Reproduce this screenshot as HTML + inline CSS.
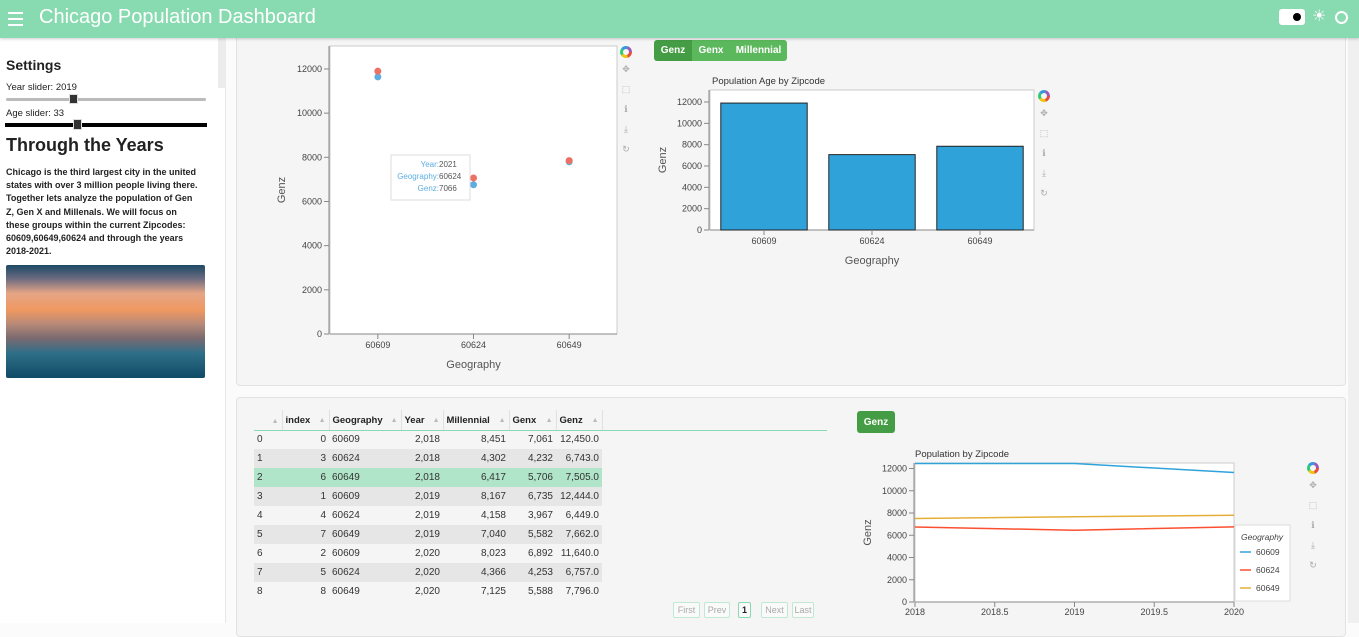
<!DOCTYPE html>
<html><head><meta charset="utf-8">
<style>
*{box-sizing:border-box;margin:0;padding:0}
body{width:1359px;height:623px;overflow:hidden;font-family:"Liberation Sans",sans-serif;background:#fbfbfb;position:relative;color:#222}
.abs{position:absolute}
#hdr{left:0;top:0;width:1359px;height:38px;background:#88dab0;box-shadow:0 1px 3px rgba(0,0,0,.2);z-index:10}
#side{left:0;top:38px;width:226px;height:585px;background:#fff;border-right:1px solid #e8e8e8}
.card{background:#f5f5f5;border:1px solid #e2e2e2;border-radius:4px}
.btn{background:#5cb85c;color:#fff;font-size:10px;font-weight:bold;display:flex;align-items:center;justify-content:center}
table{border-collapse:collapse;font-size:10px}
td{height:19px;padding:0 3px;white-space:nowrap}
.pg{border:1px solid #bfe9d2;color:#aaa;font-size:9px;height:16px;display:flex;align-items:center;justify-content:center;border-radius:2px;background:#fafafa}
</style></head><body>
<div id="hdr" class="abs">
  <div class="abs" style="left:8px;top:12px;width:15px;height:14px">
    <div style="height:2px;background:#fff;margin-bottom:4px"></div><div style="height:2px;background:#fff;margin-bottom:4px"></div><div style="height:2px;background:#fff"></div></div>
  <div class="abs" style="left:39px;top:6px;font-size:20px;color:#fff">Chicago Population Dashboard</div>
  <div class="abs" style="left:1279px;top:9px;width:26px;height:16px;background:#fff;border-radius:3px"><div style="position:absolute;left:14px;top:4px;width:8px;height:8px;border-radius:50%;background:#000"></div></div>
  <div class="abs" style="left:1312px;top:8px;color:#fff;font-size:16px;line-height:18px">☀</div>
  <div class="abs" style="left:1335px;top:11px;width:13px;height:13px;border:2px solid #fff;border-radius:50%"></div>
</div>
<div class="abs" style="left:1348px;top:38px;width:11px;height:585px;background:#f0f0f0"></div>

<div id="side" class="abs">
  <div class="abs" style="left:218px;top:0;width:8px;height:50px;background:#ececec"></div>
  <div class="abs" style="left:6px;top:19px;font-size:14px;font-weight:bold">Settings</div>
  <div class="abs" style="left:6px;top:44px;font-size:9.5px">Year slider: 2019</div>
  <div class="abs" style="left:6px;top:60px;width:200px;height:3px;background:#bbb;border-radius:2px"><div style="position:absolute;left:63px;top:-4px;width:9px;height:10px;background:#333;border:1px solid #ddd"></div></div>
  <div class="abs" style="left:6px;top:70px;font-size:9.5px">Age slider: 33</div>
  <div class="abs" style="left:5px;top:85px;width:202px;height:4px;background:#000"><div style="position:absolute;left:68px;top:-4px;width:9px;height:11px;background:#333;border:1px solid #ddd"></div></div>
  <div class="abs" style="left:6px;top:97px;font-size:18px;font-weight:bold">Through the Years</div>
  <div class="abs" style="left:6px;top:128px;width:215px;font-size:9px;font-weight:bold;line-height:13.2px;color:#222;white-space:nowrap">Chicago is the third largest city in the united<br>states with over 3 million people living there.<br>Together lets analyze the population of Gen<br>Z, Gen X and Millenals. We will focus on<br>these groups within the current Zipcodes:<br>60609,60649,60624 and through the years<br>2018-2021.</div>
  <div class="abs" style="left:6px;top:227px;width:199px;height:113px;border-radius:2px;background:linear-gradient(180deg,#1d4a66 0%,#6a6a80 12%,#e5a585 25%,#f09860 40%,#b88a78 52%,#7a6a70 65%,#2f6f88 78%,#0f4a66 100%)"></div>
</div>

<div class="abs card" style="left:236px;top:20px;width:1110px;height:366px"></div>
<div class="abs card" style="left:236px;top:397px;width:1110px;height:240px"></div>

<div class="abs" style="left:654px;top:40px;width:133px;height:21px;border-radius:3px;overflow:hidden;display:flex">
  <div class="btn" style="width:38px;background:#449d44">Genz</div>
  <div class="btn" style="width:38px">Genx</div>
  <div class="btn" style="width:57px">Millennial</div>
</div>
<div class="abs btn" style="left:857px;top:411px;width:38px;height:22px;border-radius:3px;background:#449d44">Genz</div>

<svg class="abs" style="left:0;top:0" width="1359" height="623" id="charts"></svg>

<div class="abs" style="left:254px;top:410px;width:573px">
<table id="tbl"></table>
<div style="height:1px;background:#88dab0;width:573px;position:absolute;top:20px"></div>
</div>
<div class="abs" style="left:673px;top:602px;display:flex;gap:4px">
  <div class="pg" style="width:27px">First</div>
  <div class="pg" style="width:26px">Prev</div>
  <div class="pg" style="width:13px;color:#222;font-weight:bold;border-color:#88dab0;margin-left:4px;margin-right:6px">1</div>
  <div class="pg" style="width:27px">Next</div>
  <div class="pg" style="width:22px">Last</div>
</div>

<script>
const cats=["60609","60624","60649"];
const scatRed=[11900,7066,7850];
const scatBlue=[11640,6757,7796];
const barVals=[11900,7066,7850];
const years=[2018,2019,2020];
const line60609=[12450,12444,11640];
const line60624=[6743,6449,6757];
const line60649=[7505,7662,7796];
const yTicks=[0,2000,4000,6000,8000,10000,12000];
const xYearTicks=[2018,2018.5,2019,2019.5,2020];
const tblCols=["","index","Geography","Year","Millennial","Genx","Genz"];
const tblIdx=[0,3,6,1,4,7,2,5,8];
const tblGeo=["60609","60624","60649","60609","60624","60649","60609","60624","60649"];
const tblYear=["2,018","2,018","2,018","2,019","2,019","2,019","2,020","2,020","2,020"];
const tblMil=["8,451","4,302","6,417","8,167","4,158","7,040","8,023","4,366","7,125"];
const tblGenx=["7,061","4,232","5,706","6,735","3,967","5,582","6,892","4,253","5,588"];
const tblGenz=["12,450.0","6,743.0","7,505.0","12,444.0","6,449.0","7,662.0","11,640.0","6,757.0","7,796.0"];

const svg=document.getElementById('charts');
const NS="http://www.w3.org/2000/svg";
function mk(tag,at,parent){const e=document.createElementNS(NS,tag);for(const k in at)e.setAttribute(k,at[k]);(parent||svg).appendChild(e);return e;}
function txt(x,y,s,at){const t=mk('text',Object.assign({x:x,y:y,'font-size':9,fill:'#444','font-family':'Liberation Sans, sans-serif'},at||{}));t.textContent=s;return t;}
function yAxis(x0,ys){
  yTicks.forEach(v=>{const y=ys(v);
    const tk=mk('line',{x1:x0-5,x2:x0,y1:y,y2:y,stroke:'#888'});
    
    const l=txt(x0-7,y+3,v,{'text-anchor':'end'});
    
  });
}
function toolbar(x,y){
  const g=mk('g',{});
  
  const cols=['#e74c3c','#f1c40f','#2ecc71','#3498db','#9b59b6'];
  cols.forEach((c,i)=>{mk('path',{d:describeArc(x,y,4.5,i*72,i*72+72),stroke:c,'stroke-width':3,fill:'none'},g);});
  ['✥','⬚','ℹ','⤓','↻'].forEach((s,i)=>{const t=txt(x,y+20+i*20,s,{'text-anchor':'middle','font-size':9,fill:'#aaa'});g.appendChild(t);});
}
function describeArc(cx,cy,r,a0,a1){const p=a=>[cx+r*Math.cos(a*Math.PI/180),cy+r*Math.sin(a*Math.PI/180)];const s=p(a0),e=p(a1);return `M${s[0]},${s[1]} A${r},${r} 0 0 1 ${e[0]},${e[1]}`;}

// Scatter
(function(){
  const L=330,R=617,T=46,B=334,ymax=13040;
  const ys=v=>B-(B-T)*v/ymax;
  const xs=i=>L+(R-L)*(i+0.5)/cats.length;
  mk('rect',{x:L,y:T,width:R-L,height:B-T,fill:'#fff',stroke:'#ccc'});
  mk('line',{x1:L,x2:R,y1:B,y2:B,stroke:'#888'});mk('line',{x1:L-1,x2:L-1,y1:T,y2:B,stroke:'#888'});
  yAxis(L-1,ys);
  cats.forEach((c,i)=>{mk('line',{x1:xs(i),x2:xs(i),y1:B,y2:B+5,stroke:'#888'});const l=txt(xs(i),B+14,c,{'text-anchor':'middle'});});
  cats.forEach((c,i)=>{
    const b=mk('circle',{cx:xs(i),cy:ys(scatBlue[i]),r:3.5,fill:'#5dade2'});
    
    const r=mk('circle',{cx:xs(i),cy:ys(scatRed[i]),r:3.5,fill:'#ec7063'});
    
  });
  const xt=txt((L+R)/2,368,'Geography',{'text-anchor':'middle','font-size':11,fill:'#555'});
  const yt=txt(0,0,'Genz',{'text-anchor':'middle','font-size':11,fill:'#555',transform:`translate(285,${(T+B)/2}) rotate(-90)`});
  const tg=mk('g',{});
  mk('rect',{x:391,y:155,width:79,height:45,fill:'#fff',stroke:'#ddd'},tg);
  [['Year:','2021',168],['Geography:','60624',180],['Genz:','7066',192]].forEach(a=>{
    const t=mk('text',{x:439,y:a[2]-1,'font-size':8,'text-anchor':'end',fill:'#5dade2','font-family':'Liberation Sans, sans-serif'},tg);t.textContent=a[0];
    const v=mk('text',{x:439,y:a[2]-1,'font-size':8,fill:'#555','font-family':'Liberation Sans, sans-serif'},tg);v.textContent=a[1];
  });
  toolbar(626,52);
})();

// Bar
(function(){
  const L=710,R=1034,T=90,B=230,ymax=13125;
  const ys=v=>B-(B-T)*v/ymax;
  const bw=(R-L)/cats.length;
  const xs=i=>L+bw*(i+0.5);
  mk('rect',{x:L,y:T,width:R-L,height:B-T,fill:'#fff',stroke:'#ccc'});
  mk('line',{x1:L,x2:R,y1:B,y2:B,stroke:'#888'});mk('line',{x1:L-1,x2:L-1,y1:T,y2:B,stroke:'#888'});
  yAxis(L-1,ys);
  cats.forEach((c,i)=>{
    const r=mk('rect',{x:xs(i)-bw*0.4,y:ys(barVals[i]),width:bw*0.8,height:B-ys(barVals[i]),fill:'#30a2da',stroke:'#222','stroke-width':1});
    
    mk('line',{x1:xs(i),x2:xs(i),y1:B,y2:B+5,stroke:'#888'});
    const l=txt(xs(i),B+14,c,{'text-anchor':'middle'});
  });
  const tt=txt(712,84,'Population Age by Zipcode',{'font-size':9.5,fill:'#333'});
  const xt=txt((L+R)/2,264,'Geography',{'text-anchor':'middle','font-size':11,fill:'#555'});
  const yt=txt(0,0,'Genz',{'text-anchor':'middle','font-size':11,fill:'#555',transform:`translate(666,${(T+B)/2}) rotate(-90)`});
  toolbar(1044,96);
})();

// Line
(function(){
  const L=915,R=1234,T=463,B=602;
  const ym=12000*(B-T)/(B-468.5);
  const ys=v=>B-(B-T)*v/ym;
  const xs=v=>L+(R-L)*(v-2018)/2;
  mk('rect',{x:L,y:T,width:R-L,height:B-T,fill:'#fff',stroke:'#ccc'});
  mk('line',{x1:L,x2:R,y1:B,y2:B,stroke:'#888'});mk('line',{x1:L-1,x2:L-1,y1:T,y2:B,stroke:'#888'});
  yAxis(L-1,ys);
  xYearTicks.forEach(v=>{mk('line',{x1:xs(v),x2:xs(v),y1:B,y2:B+5,stroke:'#888'});const l=txt(xs(v),B+13,v,{'text-anchor':'middle'});});
  const series=[[line60609,'#30a2da','60609'],[line60624,'#fc4f30','60624'],[line60649,'#e5ae38','60649']];
  series.forEach(s=>{
    const p=mk('polyline',{points:years.map((y,i)=>xs(y)+','+ys(s[0][i])).join(' '),fill:'none',stroke:s[1],'stroke-width':1.5});
    
  });
  const lg=mk('g',{});
  mk('rect',{x:1235,y:525,width:55,height:76,fill:'#fff',stroke:'#ddd'},lg);
  const lt=mk('text',{x:1241,y:540,'font-size':8.5,'font-style':'italic',fill:'#444','font-family':'Liberation Sans, sans-serif'},lg);lt.textContent='Geography';
  series.forEach((s,i)=>{
    const e=mk('g',{},lg);
    mk('line',{x1:1240,x2:1251,y1:552+i*18,y2:552+i*18,stroke:s[1],'stroke-width':1.5},e);
    const t=mk('text',{x:1256,y:555+i*18,'font-size':8.5,fill:'#444','font-family':'Liberation Sans, sans-serif'},e);t.textContent=s[2];
  });
  const tt=txt(915,457,'Population by Zipcode',{'font-size':9.5,fill:'#333'});
  const yt=txt(0,0,'Genz',{'text-anchor':'middle','font-size':11,fill:'#555',transform:`translate(871,${(T+B)/2}) rotate(-90)`});
  toolbar(1313,468);
})();

// Table
(function(){
  const t=document.getElementById('tbl');
  const widths=[28,47,72,42,66,47,46];
  const hr=document.createElement('tr');
  
  
  tblCols.forEach((c,i)=>{const th=document.createElement('td');
    
    
    th.style.width=widths[i]+'px';th.style.height='20px';th.style.fontWeight='bold';th.style.fontSize='9.5px';th.style.borderRight='1px solid #e0e0e0';
    th.innerHTML=c+' <span style="color:#bbb;font-size:7px;float:right;margin-top:2px">▲</span>';hr.appendChild(th);});
  t.appendChild(hr);
  tblIdx.forEach((v,r)=>{
    const tr=document.createElement('tr');
    
    
    tr.style.background=r===2?'#b0e5c9':(r%2?'#e6e6e6':'transparent');
    [r,v,tblGeo[r],tblYear[r],tblMil[r],tblGenx[r],tblGenz[r]].forEach((c,i)=>{const td=document.createElement('td');td.textContent=c;td.style.textAlign=(i===0||i===2)?'left':'right';td.style.color='#333';tr.appendChild(td);});
    t.appendChild(tr);
  });
})();
</script>
</body></html>
